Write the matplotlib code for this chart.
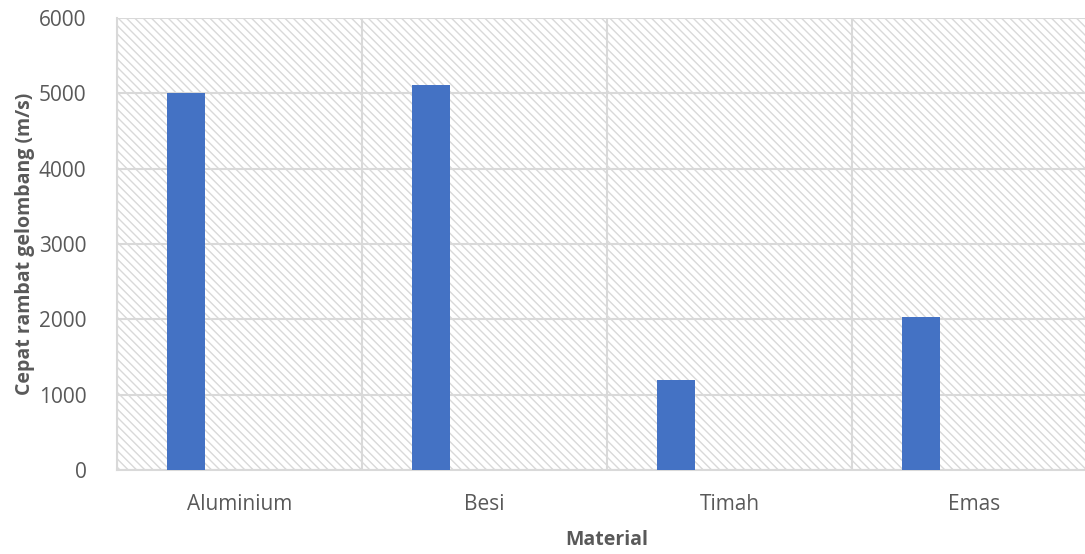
import matplotlib
matplotlib.use('Agg')
import matplotlib.pyplot as plt
import numpy as np

# Data
materials = ['Aluminium', 'Besi', 'Timah', 'Emas']
speeds = [5000, 5110, 1195, 2030]
y_ticks = [0, 1000, 2000, 3000, 4000, 5000, 6000]

plt.rcParams['font.family'] = ['Open Sans', 'DejaVu Sans']
plt.rcParams['hatch.color'] = '#dedede'
plt.rcParams['hatch.linewidth'] = 1.0

text_color = '#595959'
grid_color = '#d9d9d9'

fig = plt.figure(figsize=(10.85, 5.54), dpi=100)
ax = fig.add_axes([117 / 1085, 1 - 470 / 554, 980 / 1085, 452 / 554])

# Hatched plot background
ax.patch.set_facecolor('white')
ax.patch.set_hatch('\\\\\\\\')
ax.patch.set_edgecolor(grid_color)
ax.patch.set_linewidth(0)

x = np.arange(len(materials))
ax.bar(x - 0.218, speeds, width=0.155, color='#4472C4', zorder=3)

ax.set_xlim(-0.5, len(materials) - 0.5)
ax.set_ylim(0, 6000)
ax.set_yticks(y_ticks)
ax.set_xticks(x)
ax.set_xticklabels(materials)
ax.set_xticks(np.arange(len(materials) + 1) - 0.5, minor=True)

ax.grid(axis='y', which='major', color=grid_color, linewidth=1.5, zorder=1)
ax.grid(axis='x', which='minor', color=grid_color, linewidth=1.5, zorder=1)
ax.set_axisbelow(True)

for side in ['top', 'right']:
    ax.spines[side].set_visible(False)
for side in ['left', 'bottom']:
    ax.spines[side].set_color(grid_color)
    ax.spines[side].set_linewidth(1.5)

ax.tick_params(axis='both', which='both', length=0, labelsize=15, colors=text_color)
ax.tick_params(axis='y', pad=22)
ax.tick_params(axis='x', pad=17)

ax.set_ylabel('Cepat rambat gelombang (m/s)', fontsize=14, fontweight='bold',
              color=text_color)
ax.set_xlabel('Material', fontsize=14, fontweight='bold', color=text_color)
ax.yaxis.set_label_coords(-0.094, 0.5)
ax.xaxis.set_label_coords(0.5, -0.155)
ax.xaxis.label.set_va('center')
ax.yaxis.label.set_va('center')

fig.savefig('out.png', dpi=100)
